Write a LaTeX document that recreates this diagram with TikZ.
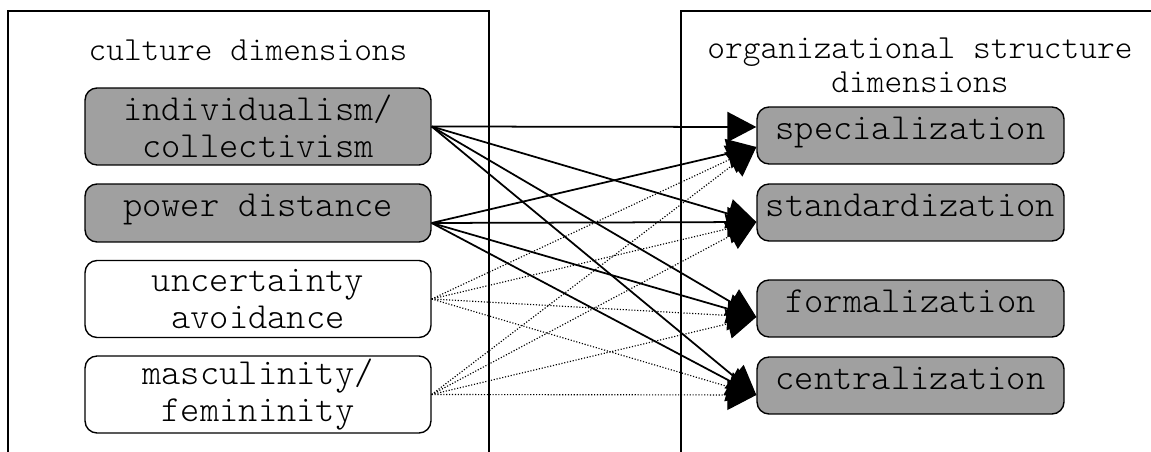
\documentclass[tikz,border=0pt]{standalone}
\usepackage{fontspec}
\setmonofont{lmmonolt10-regular.otf}
\usepackage{tikz}
\usetikzlibrary{arrows.meta,positioning,calc}
\definecolor{boxgray}{RGB}{160,160,160}
\newcommand{\dimfont}{\fontsize{20.9}{21.4}\selectfont\ttfamily}
\newcommand{\headfont}{\fontsize{19.2}{19.4}\selectfont\ttfamily}
\tikzset{
  panel/.style={line width=1pt},
  dimbox/.style={draw, line width=0.8pt, rounded corners=0.24cm, align=center,
                 font=\dimfont, inner sep=0pt, minimum width=6.92cm, minimum height=1.54cm},
  orgbox/.style={draw, line width=0.8pt, rounded corners=0.24cm, align=center,
                 font=\dimfont, inner sep=0pt, minimum width=6.14cm, minimum height=1.14cm,
                 fill=boxgray, text height=0.45cm, text depth=0.3cm},
  shaded/.style={fill=boxgray},
  oneline/.style={minimum height=1.16cm, text height=0.45cm, text depth=0.3cm},
  head/.style={font=\headfont, align=center},
  rel/.style={-{Triangle[length=0.58cm, width=0.6cm]}, line width=1pt},
  weakrel/.style={-{Triangle[length=0.58cm, width=0.6cm]}, densely dotted, line width=0.65pt},
}

\begin{document}
\begin{tikzpicture}[x=0.02cm, y=-0.02cm]
    \useasboundingbox (0,0) rectangle (1151,452);
    \draw[panel] (8,452) -- (8,11) -- (489,11) -- (489,452);
    \draw[panel] (681,452) -- (681,11) -- (1151,11);
    \node[head] (chead) at (248,50) {culture dimensions};
    \node[head] (ohead) at (920,65) {organizational structure\\dimensions};
    \node[dimbox, shaded]          (cind) at (258,126.5) {individualism/\\collectivism};
    \node[dimbox, shaded, oneline] (cpow) at (258,213)   {power distance};
    \node[dimbox]                  (cunc) at (258,299)   {uncertainty\\avoidance};
    \node[dimbox]                  (cmas) at (258,394.5) {masculinity/\\femininity};
    \node[orgbox] (ospec) at (910.5,135.5) {specialization};
    \node[orgbox] (ostan) at (910.5,212.5) {standardization};
    \node[orgbox] (oform) at (910.5,308.5) {formalization};
    \node[orgbox] (ocent) at (910.5,385.5) {centralization};
    \coordinate (cpowR)  at ([yshift=-0.2cm]cpow.east);
    \coordinate (ospecA) at ([yshift=0.17cm]ospec.west);
    \coordinate (ospecB) at ([yshift=-0.23cm]ospec.west);
    \coordinate (ostanL) at ([yshift=-0.19cm]ostan.west);
    \coordinate (oformL) at ([yshift=-0.17cm]oform.west);
    \coordinate (ocentL) at ([yshift=-0.19cm]ocent.west);
    \draw[weakrel] (cunc.east) -- (ospecB);
    \draw[weakrel] (cunc.east) -- (ostanL);
    \draw[weakrel] (cunc.east) -- (oformL);
    \draw[weakrel] (cunc.east) -- (ocentL);
    \draw[weakrel] (cmas.east) -- (ospecB);
    \draw[weakrel] (cmas.east) -- (ostanL);
    \draw[weakrel] (cmas.east) -- (oformL);
    \draw[weakrel] (cmas.east) -- (ocentL);
    \draw[rel] (cind.east) -- (ospecA);
    \draw[rel] (cind.east) -- (ostanL);
    \draw[rel] (cind.east) -- (oformL);
    \draw[rel] (cind.east) -- (ocentL);
    \draw[rel] (cpowR) -- (ospecB);
    \draw[rel] (cpowR) -- (ostanL);
    \draw[rel] (cpowR) -- (oformL);
    \draw[rel] (cpowR) -- (ocentL);
  \end{tikzpicture}
\end{document}
